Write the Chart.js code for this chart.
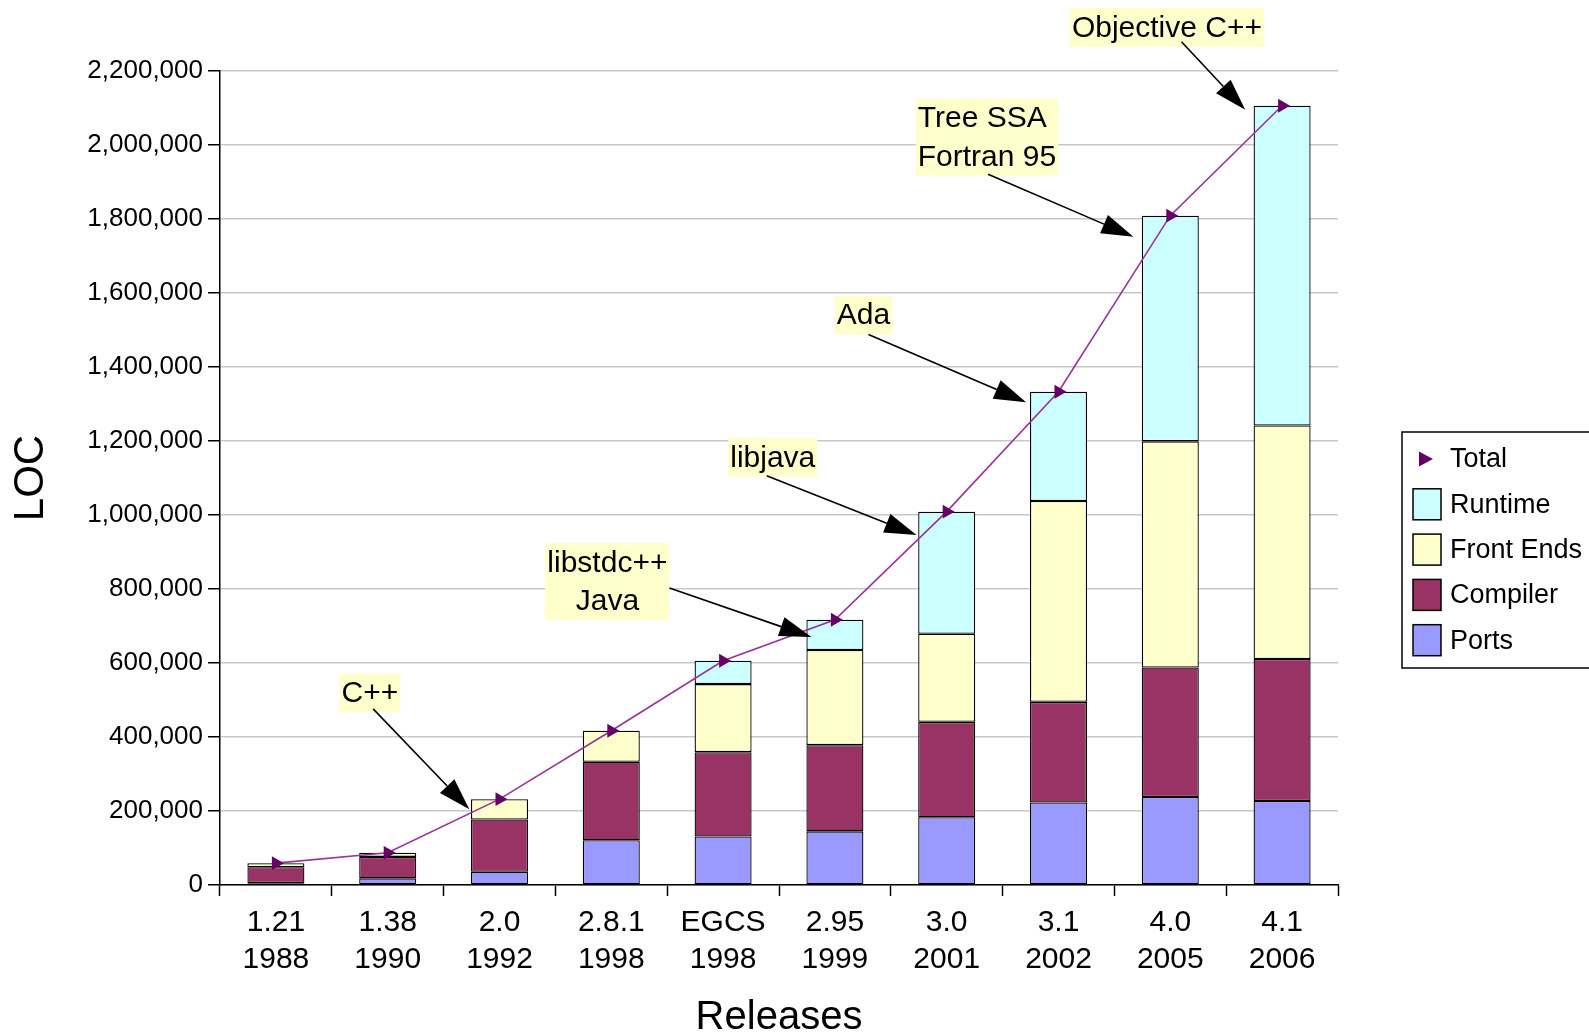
<!DOCTYPE html>
<html>
<head>
<meta charset="utf-8">
<title>GCC code growth by release</title>
<script src="https://cdn.jsdelivr.net/npm/chart.js@4.4.1/dist/chart.umd.min.js"></script>
<style>
  html, body { margin: 0; padding: 0; background: #ffffff; }
  canvas { display: block; }
</style>
</head>
<body>
<canvas id="chart" width="1589" height="1035"></canvas>
<script>
// Releases (version / year)
const releases = [
  ['1.21', '1988'], ['1.38', '1990'], ['2.0', '1992'], ['2.8.1', '1998'], ['EGCS', '1998'],
  ['2.95', '1999'], ['3.0', '2001'], ['3.1', '2002'], ['4.0', '2005'], ['4.1', '2006']
];

// Lines of code per component
const ports     = [5000, 18000, 36000, 121000, 131000, 145000, 183000, 223000, 238000, 227000];
const compiler  = [43000, 58000, 141000, 212000, 228000, 233000, 258000, 272000, 350000, 384000];
const frontEnds = [11000, 11000, 55000, 84000, 184000, 257000, 238000, 543000, 611000, 631000];
const runtime   = [null, null, null, null, 63000, 82000, 330000, 295000, 610000, 864000];
const totals    = [59000, 87000, 232000, 417000, 606000, 717000, 1009000, 1333000, 1809000, 2106000];

// Y axis range
const yMax = 2200000;
const yStep = 200000;

// Milestone callouts: [category index, LOC] for label centre, arrow tail and arrow tip
const callouts = [
  { lines: ['C++'],                   at: [0.84, 519000],  tail: [0.87, 476000],  tip: [1.73, 205000],  align: 'center' },
  { lines: ['libstdc++', 'Java'],     at: [2.965, 820000], tail: [3.52, 803000],  tip: [4.79, 670000],  align: 'center' },
  { lines: ['libjava'],               at: [4.444, 1156000], tail: [4.39, 1106000], tip: [5.73, 946000],  align: 'center' },
  { lines: ['Ada'],                   at: [5.256, 1540000], tail: [5.30, 1488000], tip: [6.71, 1305000], align: 'center' },
  { lines: ['Tree SSA', 'Fortran 95'], at: [6.36, 2021000], tail: [6.37, 1921000], tip: [7.67, 1752000], align: 'left' },
  { lines: ['Objective C++'],         at: [7.97, 2318000], tail: [8.10, 2279000], tip: [8.67, 2095000], align: 'center' }
];

const FONT = "'Liberation Sans', Arial, sans-serif";
const COLORS = {
  total: '#660066', totalLine: '#993399',
  runtime: '#ccffff', frontEnds: '#ffffcc', compiler: '#993366', ports: '#9999ff'
};

const calloutPlugin = {
  id: 'callouts',
  afterDatasetsDraw(chart) {
    const ctx = chart.ctx;
    const xs = chart.scales.x, ys = chart.scales.y;
    const P = (p) => [xs.getPixelForValue(p[0]), ys.getPixelForValue(p[1])];
    ctx.save();
    ctx.font = '30px ' + FONT;
    const lh = 38.5;
    callouts.forEach(c => {
      const [cx, cy] = P(c.at);
      const w = Math.max(...c.lines.map(l => ctx.measureText(l).width)) + 4;
      const h = lh * c.lines.length;
      const left = cx - w / 2, top = cy - h / 2;
      ctx.fillStyle = '#ffffcc';
      ctx.fillRect(left, top, w, h);
      ctx.fillStyle = '#000000';
      ctx.textBaseline = 'middle';
      c.lines.forEach((line, k) => {
        const ty = top + lh * (k + 0.5) + 1;
        if (c.align === 'left') { ctx.textAlign = 'left'; ctx.fillText(line, left + 2, ty); }
        else { ctx.textAlign = 'center'; ctx.fillText(line, cx, ty); }
      });
      // arrow
      const [tx, ty] = P(c.tail);
      const [hx, hy] = P(c.tip);
      const ang = Math.atan2(hy - ty, hx - tx);
      const len = 32, half = 10;
      const bx = hx - len * Math.cos(ang), by = hy - len * Math.sin(ang);
      ctx.strokeStyle = '#000000';
      ctx.lineWidth = 1.6;
      ctx.beginPath();
      ctx.moveTo(tx, ty);
      ctx.lineTo(bx, by);
      ctx.stroke();
      ctx.beginPath();
      ctx.moveTo(hx, hy);
      ctx.lineTo(bx + half * Math.sin(ang), by - half * Math.cos(ang));
      ctx.lineTo(bx - half * Math.sin(ang), by + half * Math.cos(ang));
      ctx.closePath();
      ctx.fillStyle = '#000000';
      ctx.fill();
    });
    ctx.restore();
  }
};

const legendPlugin = {
  id: 'boxLegend',
  afterDraw(chart) {
    const ctx = chart.ctx;
    const area = chart.chartArea;
    const x0 = area.right + 64, y0 = 432;
    ctx.save();
    ctx.fillStyle = '#ffffff';
    ctx.strokeStyle = '#000000';
    ctx.lineWidth = 1.5;
    ctx.fillRect(x0, y0, 260, 236);
    ctx.strokeRect(x0, y0, 260, 236);
    const items = [
      { label: 'Total', ds: 0 }, { label: 'Runtime', ds: 4 }, { label: 'Front Ends', ds: 3 },
      { label: 'Compiler', ds: 2 }, { label: 'Ports', ds: 1 }
    ];
    ctx.font = '27px ' + FONT;
    ctx.textBaseline = 'middle';
    ctx.textAlign = 'left';
    items.forEach((it, k) => {
      const cy = y0 + 27 + k * 45.3;
      const ds = chart.data.datasets[it.ds];
      if (it.ds === 0) {
        ctx.fillStyle = ds.pointBackgroundColor;
        ctx.beginPath();
        ctx.moveTo(x0 + 31, cy);
        ctx.lineTo(x0 + 17, cy - 7.5);
        ctx.lineTo(x0 + 17, cy + 7.5);
        ctx.closePath();
        ctx.fill();
      } else {
        ctx.fillStyle = ds.backgroundColor;
        ctx.fillRect(x0 + 11, cy - 15.5, 28, 31);
        ctx.strokeStyle = '#000000';
        ctx.lineWidth = 1.5;
        ctx.strokeRect(x0 + 11, cy - 15.5, 28, 31);
      }
      ctx.fillStyle = '#000000';
      ctx.fillText(it.label, x0 + 48, cy + 1);
    });
    ctx.restore();
  }
};

const barCommon = { borderColor: '#000000', borderWidth: 1.3, borderSkipped: false, stack: 'loc' };

new Chart(document.getElementById('chart'), {
  type: 'bar',
  data: {
    labels: releases,
    datasets: [
      {
        type: 'line', label: 'Total', data: totals, stack: 'total',
        borderColor: COLORS.totalLine, borderWidth: 1.6, tension: 0,
        pointStyle: 'triangle', rotation: 90, pointRadius: 8,
        pointBackgroundColor: COLORS.total, pointBorderColor: COLORS.total, pointBorderWidth: 0
      },
      Object.assign({ label: 'Ports', data: ports, backgroundColor: COLORS.ports }, barCommon),
      Object.assign({ label: 'Compiler', data: compiler, backgroundColor: COLORS.compiler }, barCommon),
      Object.assign({ label: 'Front Ends', data: frontEnds, backgroundColor: COLORS.frontEnds }, barCommon),
      Object.assign({ label: 'Runtime', data: runtime, backgroundColor: COLORS.runtime }, barCommon)
    ]
  },
  options: {
    responsive: false,
    devicePixelRatio: 1,
    animation: false,
    layout: { padding: { top: 71, right: 251, left: 0, bottom: 0 } },
    datasets: { bar: { categoryPercentage: 1.0, barPercentage: 0.51 } },
    plugins: { legend: { display: false }, tooltip: { enabled: false } },
    scales: {
      x: {
        stacked: true,
        offset: true,
        grid: { offset: true, drawOnChartArea: false, drawTicks: true, tickLength: 11, tickColor: '#000000', tickWidth: 1.5 },
        border: { display: true, color: '#000000', width: 1.5 },
        ticks: { color: '#000000', font: { family: FONT, size: 30, lineHeight: 1.23 }, padding: 8, maxRotation: 0, autoSkip: false },
        title: { display: true, text: 'Releases', color: '#000000', font: { family: FONT, size: 40, lineHeight: 0.85 }, padding: { top: 0, bottom: 0 } },
        afterFit(scale) { scale.height = 150; }
      },
      y: {
        stacked: true,
        min: 0, max: yMax,
        grid: { color: '#c8c8c8', lineWidth: 1.5, drawTicks: true, tickLength: 12, tickColor: '#000000', tickWidth: 1.5 },
        border: { display: true, color: '#000000', width: 1.5 },
        ticks: {
          stepSize: yStep, color: '#000000', padding: 5,
          font: { family: FONT, size: 26 },
          callback: (v) => v.toLocaleString('en-US')
        },
        title: { display: true, text: 'LOC', color: '#000000', font: { family: FONT, size: 42, lineHeight: 1.2 }, padding: { top: 6, bottom: 0 } },
        afterFit(scale) { scale.width = 220; }
      }
    }
  },
  plugins: [calloutPlugin, legendPlugin]
});
</script>
</body>
</html>
